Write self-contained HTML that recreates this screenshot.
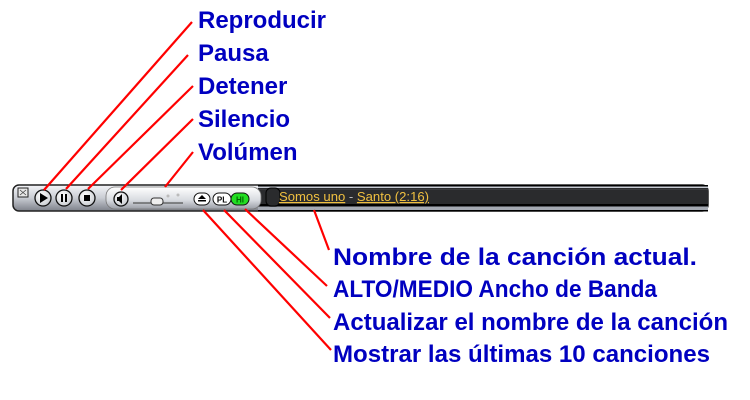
<!DOCTYPE html>
<html><head><meta charset="utf-8"><style>
html,body{margin:0;padding:0;background:#fff;width:750px;height:400px;overflow:hidden}
svg{display:block}
.l{font-family:"Liberation Sans",Arial,sans-serif;font-weight:bold;font-size:24px;fill:#0000c0}
</style></head><body>
<svg width="750" height="400" viewBox="0 0 750 400" xmlns="http://www.w3.org/2000/svg">
<defs>
<linearGradient id="g1" x1="0" y1="0" x2="0" y2="1">
<stop offset="0" stop-color="#f4f5f8"/><stop offset="0.5" stop-color="#c9ccd3"/><stop offset="1" stop-color="#7d818a"/></linearGradient>
<linearGradient id="g2" x1="0" y1="0" x2="0" y2="1">
<stop offset="0" stop-color="#ffffff"/><stop offset="0.6" stop-color="#d8dbe0"/><stop offset="1" stop-color="#9a9ea6"/></linearGradient>
<radialGradient id="bt" cx="0.4" cy="0.35" r="0.7"><stop offset="0" stop-color="#fff"/><stop offset="1" stop-color="#c8cbd0"/></radialGradient>
</defs>
<!-- bar -->
<rect x="13" y="185" width="695" height="26" rx="6" fill="url(#g1)" stroke="#222" stroke-width="1.5"/>
<rect x="258" y="185" width="450" height="1.5" fill="#000"/>
<rect x="258" y="186.5" width="450" height="1.5" fill="#c8ccd4"/>
<rect x="258" y="188" width="450" height="16" fill="#2a2b2d"/>
<rect x="258" y="189" width="450" height="1" fill="#3a3b3e"/>
<rect x="258" y="204" width="450" height="2" fill="#000"/>
<rect x="258" y="206" width="450" height="1" fill="#55585e"/>
<rect x="258" y="207" width="450" height="3" fill="#a4a9b2"/>
<rect x="258" y="210" width="450" height="1.5" fill="#000"/>
<rect x="106" y="187" width="155" height="22" rx="9" fill="url(#g2)" stroke="#777" stroke-width="0.8"/>
<rect x="266" y="188" width="14" height="18" rx="5" fill="#2a2b2d" stroke="#000"/>
<!-- small icon -->
<rect x="18" y="188" width="10" height="9" fill="#e8e8e8" stroke="#222"/>
<path d="M20 190 L26 195 M26 190 L20 195" stroke="#444" stroke-width="0.8"/>
<!-- buttons -->
<g stroke="#111" stroke-width="1.3" fill="url(#bt)">
<circle cx="43" cy="198" r="8"/><circle cx="64" cy="198" r="8"/><circle cx="87" cy="198" r="8"/><circle cx="121" cy="199" r="7"/>
</g>
<path d="M40 193 L48 198 L40 203Z" fill="#000"/>
<rect x="61" y="194" width="2" height="8" fill="#000"/><rect x="65" y="194" width="2" height="8" fill="#000"/>
<rect x="84" y="195" width="6" height="6" fill="#000"/>
<path d="M117 197 h2 l3 -3 v10 l-3 -3 h-2z" fill="#000"/>
<!-- slider -->
<line x1="133" y1="203" x2="183" y2="203" stroke="#555" stroke-width="1.2"/>
<rect x="151" y="198" width="12" height="7" rx="3" fill="#eee" stroke="#333"/>
<circle cx="168" cy="196" r="1.5" fill="#bbb"/><circle cx="178" cy="195" r="1.5" fill="#bbb"/>
<!-- eject PL HI -->
<rect x="194" y="193" width="16" height="12" rx="6" fill="#fff" stroke="#111"/>
<path d="M198 199 L202 195 L206 199Z M198 200 h8 v1.5 h-8z" fill="#000"/>
<rect x="213" y="193" width="18" height="12" rx="6" fill="#fff" stroke="#111"/>
<text x="222" y="202.5" font-family="Liberation Sans,sans-serif" font-size="8" font-weight="bold" text-anchor="middle">PL</text>
<rect x="231" y="193" width="18" height="12" rx="6" fill="#22dd22" stroke="#111"/>
<text x="240" y="202.5" font-family="Liberation Sans,sans-serif" font-size="8" font-weight="bold" text-anchor="middle" fill="#006600">HI</text>
<!-- title -->
<text x="279" y="201" font-family="Liberation Sans,sans-serif" font-size="12.5" fill="#f0c040" textLength="150" lengthAdjust="spacingAndGlyphs"><tspan text-decoration="underline">Somos uno</tspan><tspan fill="#bbb"> - </tspan><tspan text-decoration="underline">Santo (2:16)</tspan></text>
<!-- lines -->
<g stroke="#ff0000" stroke-width="2.2" fill="none">
<line x1="192" y1="22" x2="44" y2="190"/>
<line x1="188" y1="55" x2="66" y2="189"/>
<line x1="193" y1="86" x2="88" y2="189"/>
<line x1="193" y1="119" x2="121" y2="190"/>
<line x1="193" y1="152" x2="165" y2="187"/>
<line x1="314" y1="210" x2="329" y2="250"/>
<line x1="245" y1="209" x2="327" y2="286"/>
<line x1="224" y1="210" x2="330" y2="318"/>
<line x1="203" y1="210" x2="331" y2="350"/>
</g>
<!-- labels -->
<text class="l" x="198" y="28">Reproducir</text>
<text class="l" x="198" y="61">Pausa</text>
<text class="l" x="198" y="94">Detener</text>
<text class="l" x="198" y="127">Silencio</text>
<text class="l" x="198" y="160">Volúmen</text>
<text class="l" x="333" y="265" textLength="364" lengthAdjust="spacingAndGlyphs">Nombre de la canción actual.</text>
<text class="l" x="333" y="297" textLength="324" lengthAdjust="spacingAndGlyphs">ALTO/MEDIO Ancho de Banda</text>
<text class="l" x="333" y="330" textLength="395" lengthAdjust="spacingAndGlyphs">Actualizar el nombre de la canción</text>
<text class="l" x="333" y="362" textLength="377" lengthAdjust="spacingAndGlyphs">Mostrar las últimas 10 canciones</text>
</svg>
</body></html>
